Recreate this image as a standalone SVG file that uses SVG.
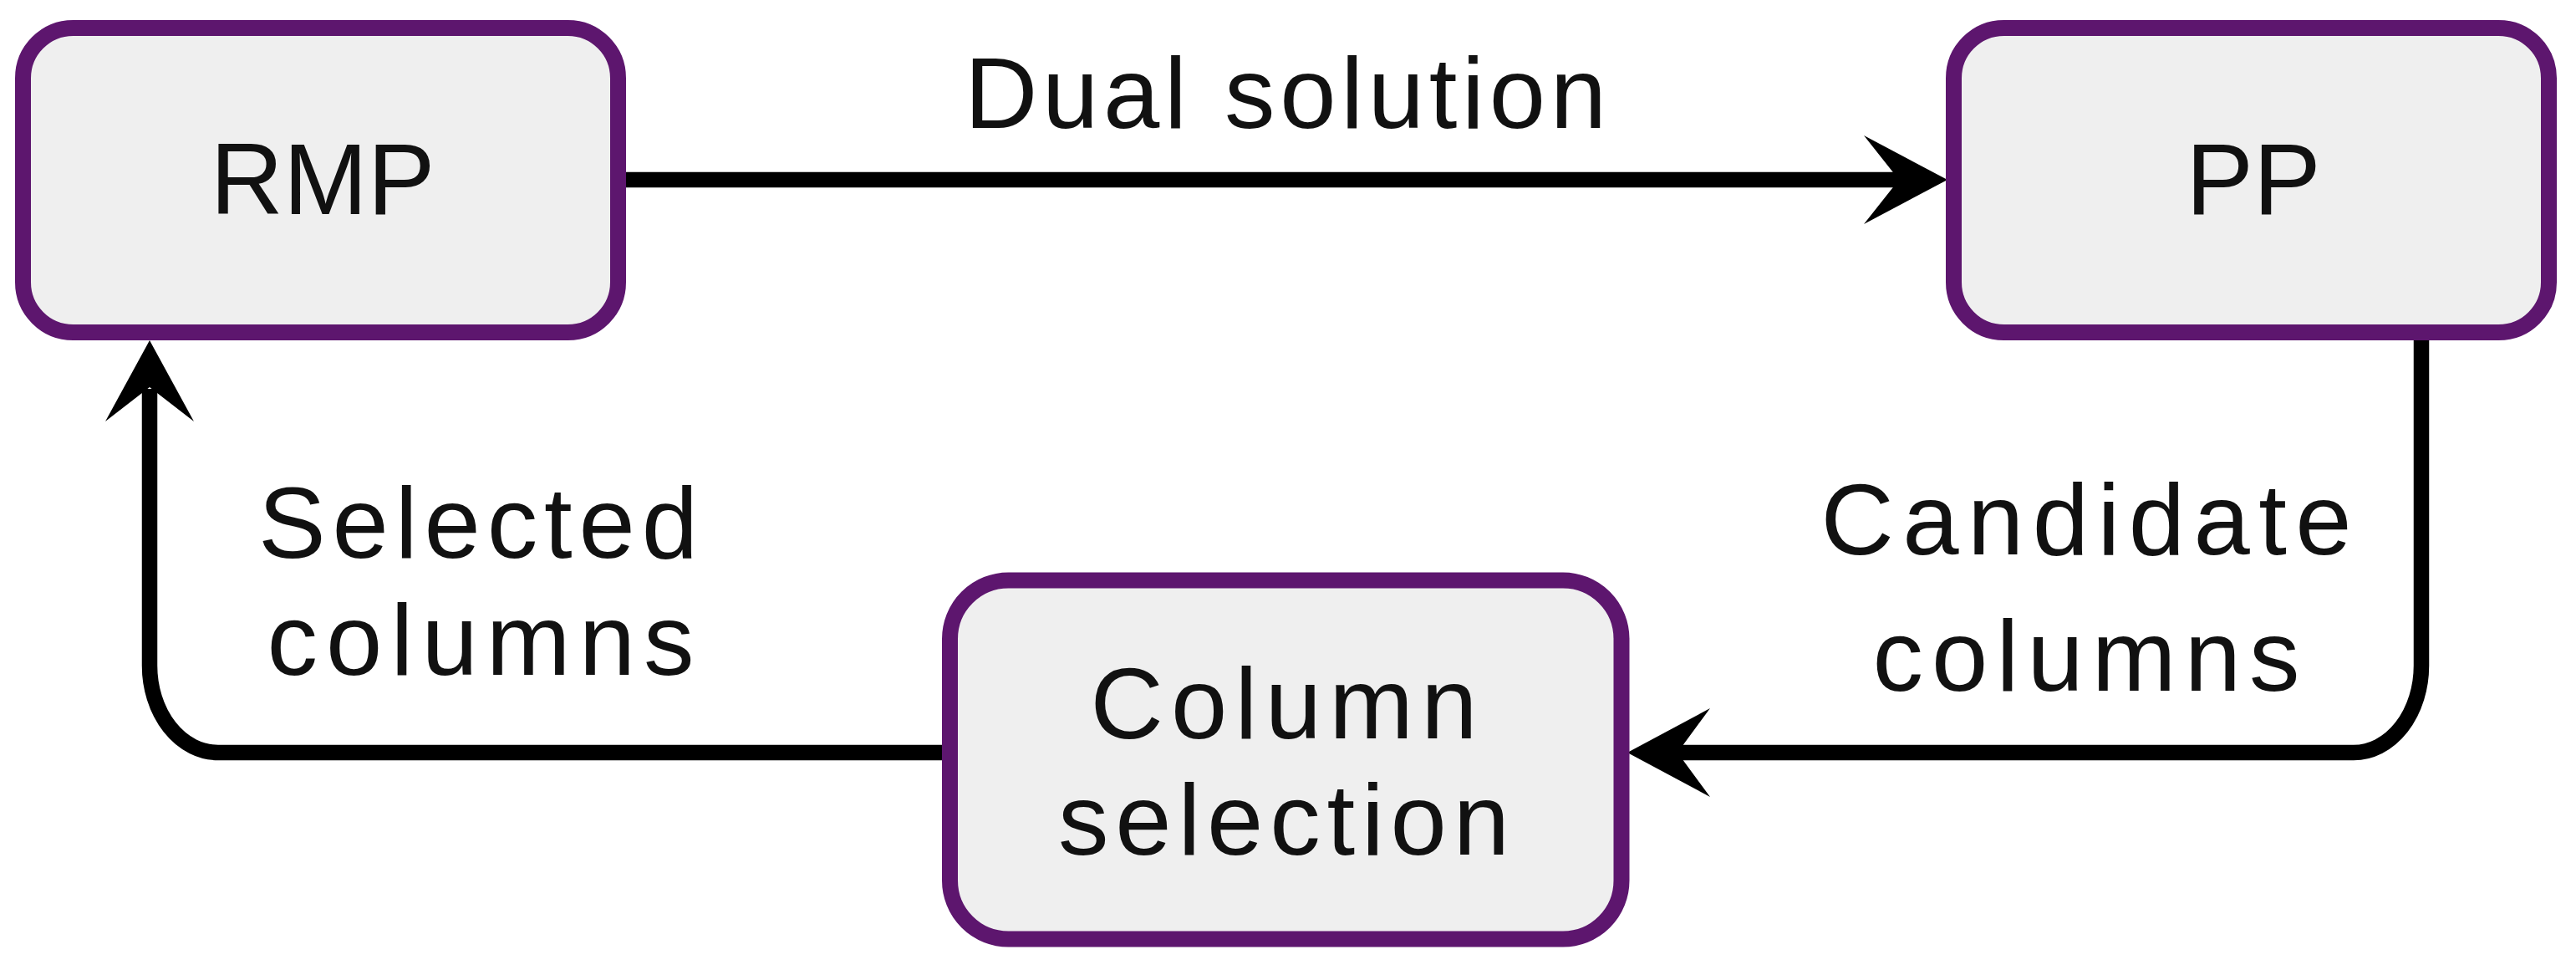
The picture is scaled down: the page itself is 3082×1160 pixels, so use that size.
<svg xmlns="http://www.w3.org/2000/svg" width="3082" height="1160" viewBox="0 0 3082 1160">
<style>
.box{fill:#EFEFEF;stroke:#5D166E;stroke-width:19}
.lbl{font-family:"Liberation Sans",Arial,sans-serif;font-size:121px;fill:#111;text-anchor:middle}
.edge{fill:none;stroke:#000;stroke-width:18.5}
.head{fill:#000;stroke:none}
</style>
<rect width="3082" height="1160" fill="#FFFFFF"/>
<g id="connectors">
<path class="edge" d="M748,215 H2275"/>
<path class="head" d="M2330,215 L2230,162 L2272,215 L2230,268 Z"/>
<path class="edge" d="M1128,900 H261 A82,104 0 0 1 179,796 V465"/>
<path class="head" d="M179,407 L126,504 L179,463 L232,504 Z"/>
<path class="edge" d="M2897,406 V796 A81,104 0 0 1 2816,900 H2004"/>
<path class="head" d="M1947,900 L2046,847 L2007,900 L2046,953 Z"/>
<text class="lbl" x="1538" y="153" textLength="768" lengthAdjust="spacing">Dual solution</text>
<text class="lbl" x="572" y="667" textLength="526" lengthAdjust="spacing">Selected</text>
<text class="lbl" x="575" y="807" textLength="511" lengthAdjust="spacing">columns</text>
<text class="lbl" x="2496" y="663" textLength="635" lengthAdjust="spacing">Candidate</text>
<text class="lbl" x="2496" y="826" textLength="511" lengthAdjust="spacing">columns</text>
</g>
<g id="node-rmp">
<rect class="box" x="27.5" y="33.5" width="712" height="364" rx="60" ry="60"/>
<text class="lbl" x="386" y="256">RMP</text>
</g>
<g id="node-pp">
<rect class="box" x="2337.5" y="33.5" width="712" height="364" rx="60" ry="60"/>
<text class="lbl" x="2696" y="256">PP</text>
</g>
<g id="node-colsel">
<rect class="box" x="1136.5" y="694" width="803.5" height="429" rx="70" ry="70"/>
<text class="lbl" x="1536" y="883" textLength="463" lengthAdjust="spacing">Column</text>
<text class="lbl" x="1536" y="1022" textLength="540" lengthAdjust="spacing">selection</text>
</g>
</svg>
